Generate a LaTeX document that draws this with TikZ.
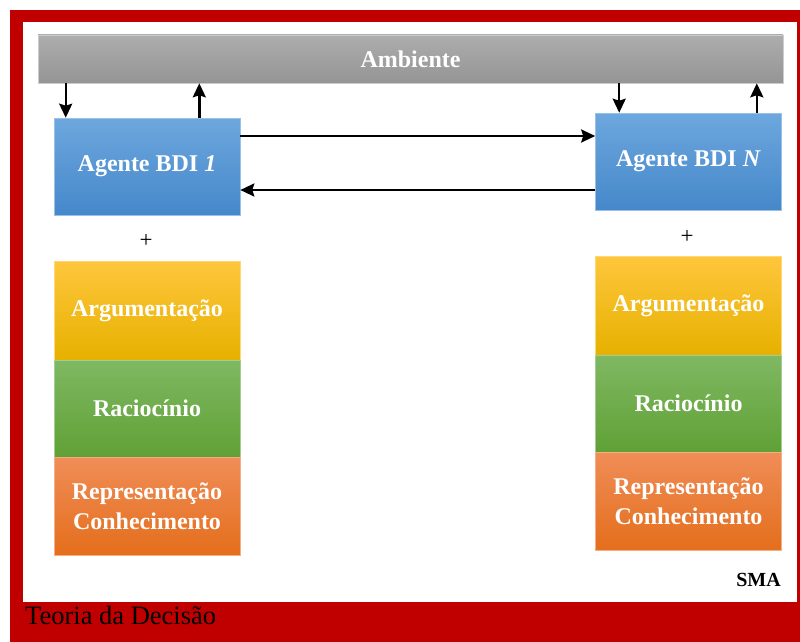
\documentclass[tikz,border=0pt]{standalone}
\usepackage{fontspec}
\setmainfont{Liberation Serif}
\usetikzlibrary{arrows.meta,calc}

\definecolor{frame}{HTML}{C00000}
\definecolor{grayT}{HTML}{ADADAD}
\definecolor{grayB}{HTML}{959595}
\definecolor{blueT}{HTML}{6DA7DE}
\definecolor{blueB}{HTML}{4588CA}
\definecolor{yelT}{HTML}{FFC63C}
\definecolor{yelB}{HTML}{E6B100}
\definecolor{grnT}{HTML}{7FB862}
\definecolor{grnB}{HTML}{60A136}
\definecolor{orgT}{HTML}{F08D57}
\definecolor{orgB}{HTML}{E46E1C}

\tikzset{
  block/.style={rectangle, inner sep=0pt, align=center, text=white,
    font=\fontsize{24}{30}\selectfont\bfseries, line width=0.6pt},
  ambbox/.style={block, minimum width=745pt, minimum height=48pt,
    top color=grayT, bottom color=grayB, draw=gray!40},
  agentbox/.style={block, minimum width=186pt, minimum height=97pt,
    top color=blueT, bottom color=blueB, draw=blueT!70!white},
  argbox/.style={block, minimum width=186pt, minimum height=99pt,
    top color=yelT, bottom color=yelB, draw=yelT!70!white},
  racbox/.style={block, minimum width=186pt, minimum height=97pt,
    top color=grnT, bottom color=grnB, draw=grnT!70!white},
  repbox/.style={block, minimum width=186pt, minimum height=98pt,
    top color=orgT, bottom color=orgB, draw=orgT!70!white},
  arr/.style={-{Stealth[length=14pt,width=13pt,inset=2pt]}, line width=2.4pt, black},
  plus/.style={font=\fontsize{23}{25}\selectfont}
}

\begin{document}
\begin{tikzpicture}[x=1pt,y=-1pt]
  \useasboundingbox (0,0) rectangle (800,642);
  % red frame with white panel
  \fill[white] (0,0) rectangle (800,642);
  \fill[frame] (10,10) rectangle (800,642);
  \fill[white] (23,22) rectangle (797,602);

  % environment
  \node[ambbox] (amb) at (410.5,59) {Ambiente};

  % agents
  \node[agentbox] (a1) at (147,166.5) {Agente BDI \textit{1}};
  \node[agentbox] (aN) at (688.5,161.5) {Agente BDI \textit{N}};

  % perception / action arrows
  \draw[arr] ([xshift=12pt]amb.south -| a1.west) -- ([xshift=12pt]a1.north west);
  \draw[arr] ([xshift=-41pt]a1.north east) -- ([xshift=-41pt]amb.south -| a1.east);
  \draw[arr] ([xshift=24pt]amb.south -| aN.west) -- ([xshift=24pt]aN.north west);
  \draw[arr] ([xshift=-25pt]aN.north east) -- ([xshift=-25pt]amb.south -| aN.east);

  % communication between agents
  \draw[arr] (a1.east |- 0,136) -- (aN.west |- 0,136);
  \draw[arr] (aN.west |- 0,190) -- (a1.east |- 0,190);

  % plus signs
  \node[plus] (p1) at (146,241) {+};
  \node[plus] (pN) at (687,237) {+};

  % left stack
  \node[argbox] (arg1) at (147,310.5) {Argumentação};
  \node[racbox] (rac1) at (147,408.5) {Raciocínio};
  \node[repbox] (rep1) at (147,506) {Representação\\Conhecimento};

  % right stack
  \node[argbox] (argN) at (688.5,305.5) {Argumentação};
  \node[racbox] (racN) at (688.5,403.5) {Raciocínio};
  \node[repbox] (repN) at (688.5,501) {Representação\\Conhecimento};

  % labels
  \node[anchor=base east, inner sep=0pt, font=\fontsize{20}{22}\selectfont\bfseries] (sma) at (781,586) {SMA};
  \node[anchor=base west, inner sep=0pt, font=\fontsize{26.5}{28}\selectfont] (td) at (25,624) {Teoria da Decisão};
\end{tikzpicture}
\end{document}
